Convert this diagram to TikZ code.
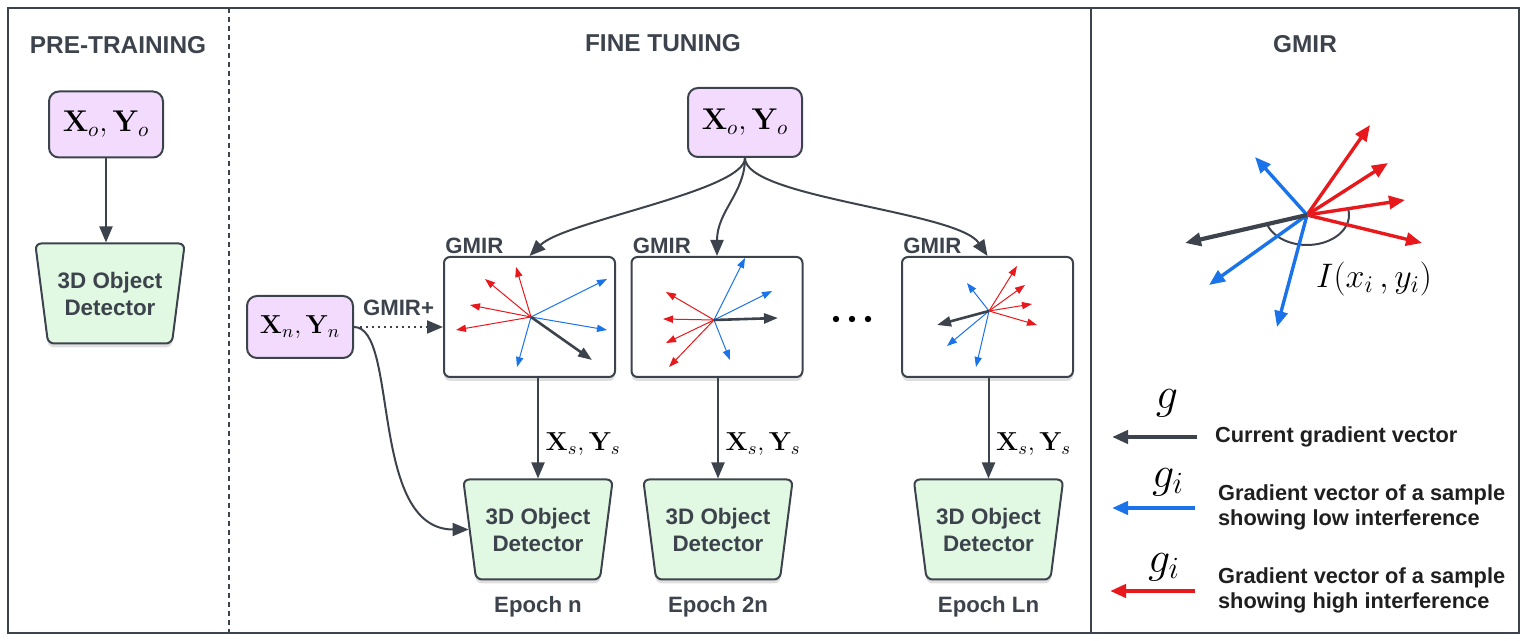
\RequirePackage{fix-cm}
\documentclass[tikz,border=0pt]{standalone}
\usepackage{amsmath}
\usepackage[no-math]{fontspec}
\setmainfont{Liberation Sans}
\usepackage{tikz}
\usetikzlibrary{shapes.geometric,shadows,arrows.meta,positioning}
\definecolor{ink}{HTML}{3D434C}
\definecolor{lilac}{HTML}{F2DBFC}
\definecolor{mint}{HTML}{E1F8E2}
\definecolor{gred}{HTML}{E8191C}
\definecolor{gblue}{HTML}{1A73E8}

\begin{document}
\begin{tikzpicture}[x=0.5pt,y=-0.5pt,
    every node/.style={text=ink},
    title/.style={font=\fontsize{12.2}{14}\selectfont\bfseries},
    lbl/.style={font=\fontsize{11.1}{13}\selectfont\bfseries},
    inbox/.style={draw=ink,line width=1pt,fill=lilac,rounded corners=5pt,text=black,
      minimum width=57pt,minimum height=33pt,font=\fontsize{15}{18}\selectfont},
    gmbox/.style={draw=ink,line width=1pt,fill=white,rounded corners=3pt,
      minimum width=85.5pt,minimum height=60pt,
      drop shadow={opacity=0.25,shadow xshift=0pt,shadow yshift=-2pt}},
    det/.style={trapezium,trapezium angle=76,shape border rotate=180,
      trapezium stretches=true,draw=ink,line width=1pt,fill=mint,rounded corners=3pt,
      minimum width=75pt,minimum height=50pt,inner sep=0pt,align=center,
      font=\fontsize{11.2}{13.5}\selectfont\bfseries,
      drop shadow={opacity=0.25,shadow xshift=0pt,shadow yshift=-2pt}},
    sel/.style={pos=0.66,anchor=west,text=black,font=\fontsize{13}{15}\selectfont},
    conn/.style={ink,line width=1pt,-{Triangle[length=8pt,width=6.5pt]}},
    rv/.style={gred,line width=0.5pt,-{Triangle[length=5pt,width=3.6pt]}},
    bv/.style={gblue,line width=0.5pt,-{Triangle[length=5pt,width=3.6pt]}},
    kv/.style={ink,line width=1.3pt,-{Triangle[length=7pt,width=5pt]}},
    bigv/.style={line width=1.7pt,-{Triangle[length=8pt,width=6.5pt]}},
    sym/.style={text=black,font=\fontsize{22}{24}\selectfont},
    legtxt/.style={anchor=west,align=left,text=black!88,
      font=\fontsize{10.9}{12.5}\selectfont\bfseries}]
  \useasboundingbox (0,0) rectangle (1527,641);
  \draw[ink,line width=1pt] (8,8) rectangle (1519,633);
  \draw[ink,line width=0.7pt,dash pattern=on 2.5pt off 2pt] (229,8) -- (229,633);
  \draw[ink,line width=1pt] (1091,8) -- (1091,633);

  \node[title] (tpre) at (118,45) {PRE-TRAINING};
  \node[title] (tft) at (663,43) {FINE TUNING};
  \node[title] (tgm) at (1305,44) {GMIR};

  \node[inbox] (pre) at (106,124.5) {$\mathbf{X}_o, \mathbf{Y}_o$};
  \node[det] (det0) at (110,293.5) {3D Object\\Detector};
  \draw[conn] (pre.south) -- (pre.south |- det0.north);

  \node[inbox,minimum height=34.5pt] (top) at (745,122.5) {$\mathbf{X}_o, \mathbf{Y}_o$};
  \node[gmbox] (gm1) at (529.5,317) {};
  \node[gmbox] (gm2) at (717,317) {};
  \node[gmbox] (gm3) at (987.5,317) {};
  \node[lbl,anchor=south west,inner sep=1pt] (gl1) at (gm1.north west) {GMIR};
  \node[lbl,anchor=south west,inner sep=1pt] (gl2) at (gm2.north west) {GMIR};
  \node[lbl,anchor=south west,inner sep=1pt] (gl3) at (gm3.north west) {GMIR};
  \node[det] (det1) at (538,529.5) {3D Object\\Detector};
  \node[det] (det2) at (718,529.5) {3D Object\\Detector};
  \node[det] (det3) at (988.5,529.5) {3D Object\\Detector};
  \node[lbl,below=4.5pt of det1] (ep1) {Epoch n};
  \node[lbl,below=4.5pt of det2] (ep2) {Epoch 2n};
  \node[lbl,below=4.5pt of det3] (ep3) {Epoch Ln};
  \node[inbox,minimum width=53pt,minimum height=31pt,font=\fontsize{13}{15}\selectfont]
    (xn) at (300,327) {$\mathbf{X}_n, \mathbf{Y}_n$};

  \draw[conn] (top.south) .. controls +(0,33) and +(35,-35) .. (gm1.north);
  \draw[conn] (top.south) .. controls +(0,35) and +(0,-45) .. (gm2.north);
  \draw[conn] (top.south) .. controls +(0,40) and +(-30,-45) .. (gm3.north);
  \draw[conn,dotted] (xn.east) -- (xn.east -| gm1.west)
    node[lbl,midway,above=2pt] (gplus) {GMIR+};
  \draw[conn] (xn.east) .. controls +(45,0) and +(-100,0) .. (det1.west);
  \draw[conn] (gm1.south -| det1.north) -- (det1.north)
    node[sel] (xs1) {$\mathbf{X}_s, \mathbf{Y}_s$};
  \draw[conn] (gm2.south -| det2.north) -- (det2.north)
    node[sel] (xs2) {$\mathbf{X}_s, \mathbf{Y}_s$};
  \draw[conn] (gm3.south -| det3.north) -- (det3.north)
    node[sel] (xs3) {$\mathbf{X}_s, \mathbf{Y}_s$};
  \foreach \x in {836,852,868}
    \fill[black] (\x,319) circle[radius=1.6pt];

  \coordinate (s1) at (531,317);
  \foreach \dx/\dy in {-15/-50,-46/-38,-61/-12,-75/13}
    \draw[rv] (s1) -- ++(\dx,\dy);
  \foreach \dx/\dy in {76/-38,76/13,-14/50}
    \draw[bv] (s1) -- ++(\dx,\dy);
  \draw[kv] (s1) -- ++(61,43);
  \coordinate (s2) at (714,320);
  \foreach \dx/\dy in {-48/-28,-51/-1,-48/23,-45/47}
    \draw[rv] (s2) -- ++(\dx,\dy);
  \foreach \dx/\dy in {31/-62,58/-29,16/40}
    \draw[bv] (s2) -- ++(\dx,\dy);
  \draw[kv] (s2) -- ++(64,-2);
  \coordinate (s3) at (989,311);
  \foreach \dx/\dy in {28/-45,36/-26,43/-7,48/14}
    \draw[rv] (s3) -- ++(\dx,\dy);
  \foreach \dx/\dy in {-22/-28,-42/35,-13/56}
    \draw[bv] (s3) -- ++(\dx,\dy);
  \draw[kv] (s3) -- ++(-52,14);

  \coordinate (gc) at (1307,215);
  \draw[ink,line width=1pt] ([shift={(10:21pt and 15pt)}]gc) arc[start angle=10,end angle=-160,x radius=21pt,y radius=15pt];
  \foreach \dx/\dy in {63/-90,81/-52,98/-15,115/28}
    \draw[bigv,gred] (gc) -- ++(\dx,\dy);
  \foreach \dx/\dy in {-52/-58,-98/70,-30/112}
    \draw[bigv,gblue] (gc) -- ++(\dx,\dy);
  \draw[bigv,ink,line width=2.1pt] (gc) -- ++(-122,28);
  \node[text=black,font=\fontsize{17}{20}\selectfont] (ixy) at (1374,279) {$I(x_i\,, y_i)$};

  \node[sym] (gk) at (1167,403) {$g$};
  \node[sym] (gb) at (1168,482) {$g_i$};
  \node[sym] (gr) at (1164,567) {$g_i$};
  \node[legtxt] (lt1) at (1208,437) {Current gradient vector};
  \node[legtxt] (lt2) at (1211,507.5) {Gradient vector of a sample\\showing low interference};
  \node[legtxt] (lt3) at (1211,590.5) {Gradient vector of a sample\\showing high interference};
  \draw[bigv,ink,line width=2pt] (1197,437) -- (1112,437);
  \draw[bigv,gblue,line width=2pt] (1195,508) -- (1112,508);
  \draw[bigv,gred,line width=2pt] (1195,591) -- (1110,591);
\end{tikzpicture}
\end{document}
